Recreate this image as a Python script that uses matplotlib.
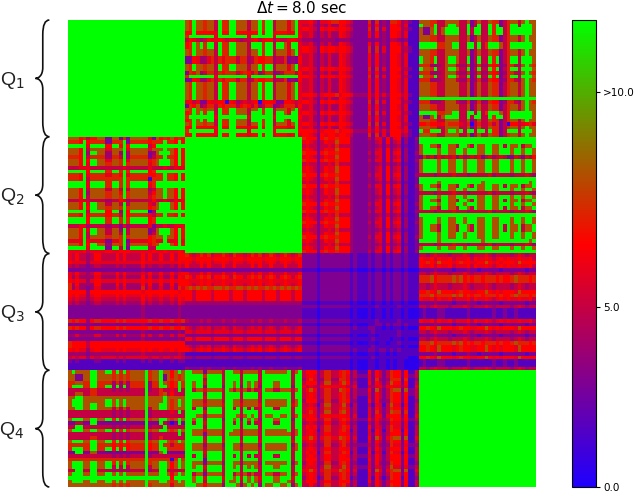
#!/usr/bin/env python3
import matplotlib
matplotlib.use('Agg')
import matplotlib.pyplot as plt
import numpy as np
from matplotlib.colors import LinearSegmentedColormap
from matplotlib.patches import PathPatch
from matplotlib.path import Path

# value of each colour level
level_values = [0.5, 1.7, 2.9, 4.0, 5.0, 6.0, 6.8, 7.6, 8.7, 13.0]

quarter_labels = ['Q$_1$', 'Q$_2$', 'Q$_3$', 'Q$_4$']
cbar_ticks = [0, 5, 11]
cbar_labels = ['0.0', '5.0', '>10.0']

# each block: the distinct rows seen in the picture, then the row order
q1q2_rows = {
    'A': '8798 8788 4977 9988 8488 9799 4888 5895',
    'B': '7999 9999 5999 9999 9599 9999 5999 9996',
    'C': '2265 3357 4757 7747 7347 6677 3447 2326',
    'D': '5645 2265 5660 6534 5456 0566 5226 6545',
    'E': '2768 3477 4767 7746 7647 3477 2347 7746',
    'F': '6798 9799 4977 9988 8499 9799 4998 5995',
    'G': '4654 3465 5654 5543 4456 4566 3544 5654',
    'R': '6696 6666 5966 9966 6566 9699 5666 5695',
}
q1q2_order = 'AAARBGFFAACCAAEBCAAAAADEAFBFARBR'

q1q3_rows = {
    '1': '4453 2435 3365 4322 2262 6232 6653 5111',
    '2': '6654 2656 6566 5422 2272 7252 6663 4211',
    '3': '3332 2333 3233 3222 2232 3232 4432 3111',
    '4': '6665 3566 6756 6533 3363 6353 6664 5211',
    '5': '5564 2556 7766 5422 2272 7232 7763 4211',
}
q1q3_order = '51211312211112121111412112112142'

q1q4_rows = {
    'O': '8887 7448 8884 4824 8448 7724 7884 8988',
    'P': '9887 9448 9984 4924 9449 7924 7994 9998',
    'G': '9999 9999 9999 9999 9999 9999 9999 9999',
    'H': '9999 9778 8994 4994 9479 9984 7999 9998',
    'I': '8228 9489 9994 4949 9449 7994 7999 9998',
    'J': '6676 6568 7775 4704 7447 4724 0664 5675',
    'L': '9779 9948 9989 4994 9949 7724 9994 9998',
    'M': '7773 3348 8843 3723 7337 6623 7743 8987',
}
q1q4_order = 'OPIIOOHHOOPPMPMPMOOOOGMOOHIOJOLO'

q2q3_rows = {
    '1': '5654 2465 5866 6322 2232 4526 2451 3112',
    '2': '7666 2676 6766 6322 2242 5526 2561 3113',
    '3': '4544 2445 4744 4322 2232 3424 2341 2112',
}
q2q3_order = '21312123112132113121231213121312'

q2q4_rows = {
    'G': '9999 9999 9999 9999 9999 9999 9999 9999',
    '2': '8999 9899 8899 8999 8899 8899 9899 8998',
    '3': '8998 8499 8849 9849 8899 8894 9889 4889',
    '4': '4444 3444 4544 4344 4445 3444 4344 4543',
    '5': '2745 3545 4535 3454 5245 3454 2254 2546',
    '6': '9999 9899 9999 9999 9899 9999 9999 9989',
}
q2q4_order = 'GG322522224G63242323 4G22332264 2G'.replace(' ', '')

q3q3_rows = {
    '1': '2222 1222 2222 2121 1121 2212 1221 2111',
    '2': '1111 0111 1111 1010 0010 1101 0110 1000',
    '3': '2211 1211 2211 1111 1111 2111 1121 1111',
}
q3q3_order = '11112111111112322231233232332222'

q3q4_rows = {
    '1': '6676 5866 6567 6655 6686 5656 6658 6666',
    '2': '4434 5444 3444 5434 4454 3444 4345 4344',
    '3': '7778 6777 7878 6767 7677 7676 6787 7767',
    '4': '2222 3222 2122 2322 1222 2212 2222 2122',
    '5': '1211 1221 1111 1211 1111 2112 1121 1111',
    '6': '6556 4655 6455 5646 5565 4565 6556 5564',
}
q3q4_order = '26164233221364255564124231141552'


def block(rows, order):
    """把字串列轉成 32x32 的數值陣列"""
    out = []
    for key in order[:32]:
        row = rows[key].replace(' ', '')
        out.append([level_values[int(ch)] for ch in row])
    return np.array(out)


def draw_brace(ax, y0, y1):
    """畫左側大括號, 座標單位為格"""
    mid = (y0 + y1) / 2
    tip, spine, end = -9.4, -7.4, -5.6
    verts = [(end, y0), (spine, y0), (spine, y0 + 4),
             (spine, mid - 3),
             (spine, mid - 0.7), (tip + 0.8, mid), (tip, mid),
             (tip + 0.8, mid), (spine, mid + 0.7), (spine, mid + 3),
             (spine, y1 - 4),
             (spine, y1), (end, y1)]
    codes = [Path.MOVETO, Path.CURVE3, Path.CURVE3,
             Path.LINETO,
             Path.CURVE4, Path.CURVE4, Path.CURVE4,
             Path.CURVE4, Path.CURVE4, Path.CURVE4,
             Path.LINETO,
             Path.CURVE3, Path.CURVE3]
    ax.add_patch(PathPatch(Path(verts, codes), facecolor='none', edgecolor='#111111',
                           linewidth=1.2, clip_on=False))


n = 32
green = np.full((n, n), level_values[9])
q1q2 = block(q1q2_rows, q1q2_order)
q1q3 = block(q1q3_rows, q1q3_order)
q1q4 = block(q1q4_rows, q1q4_order)
q2q3 = block(q2q3_rows, q2q3_order)
q2q4 = block(q2q4_rows, q2q4_order)
q3q3 = block(q3q3_rows, q3q3_order)
q3q4 = block(q3q4_rows, q3q4_order)

# 矩陣對稱, 只填上三角
matrix = np.block([
    [green, q1q2, q1q3, q1q4],
    [q1q2.T, green, q2q3, q2q4],
    [q1q3.T, q2q3.T, q3q3, q3q4],
    [q1q4.T, q2q4.T, q3q4.T, green],
])
matrix = np.triu(matrix) + np.triu(matrix, 1).T

cmap = LinearSegmentedColormap.from_list(
    'brg_like', [(0.0, (0.12, 0.0, 1.0)), (0.52, (1.0, 0.0, 0.0)), (1.0, (0.0, 1.0, 0.0))], N=256)

fig = plt.figure(figsize=(6.36, 4.92), dpi=100)
W, H = 636.0, 492.0
ax = fig.add_axes([68 / W, 1 - 487 / H, 468 / W, 467 / H])
im = ax.imshow(matrix, cmap=cmap, vmin=0, vmax=13, aspect='auto', interpolation='nearest')
ax.axis('off')
ax.set_title(r'$\Delta t = 8.0$ sec', fontsize=11, pad=5)

for i, label in enumerate(quarter_labels):
    y0 = i * n - 0.5
    y1 = (i + 1) * n - 0.5
    draw_brace(ax, y0, y1)
    ax.text(-15.8, (y0 + y1) / 2 + 0.5, label, fontsize=14, family='Liberation Sans',
            color='#222222', ha='center', va='center', clip_on=False)

cax = fig.add_axes([572 / W, 1 - 487 / H, 24 / W, 467 / H])
cbar = fig.colorbar(im, cax=cax)
cbar.set_ticks(cbar_ticks)
cbar.set_ticklabels(cbar_labels)
cbar.ax.tick_params(labelsize=7.5, length=3, pad=2)

plt.savefig('out.png', dpi=100)
plt.close()
